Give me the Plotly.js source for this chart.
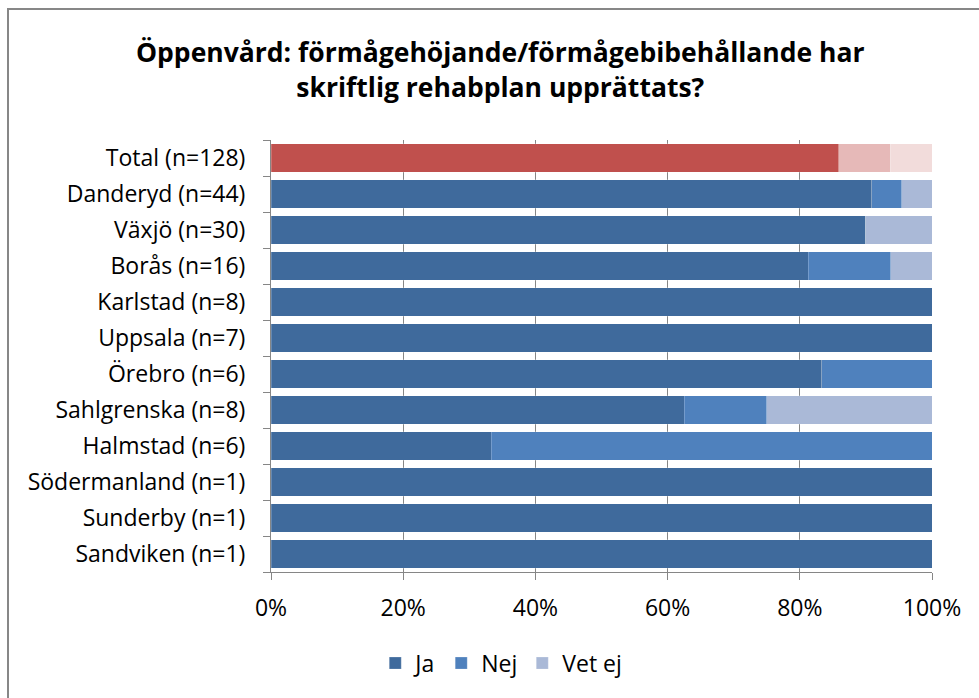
<!DOCTYPE html>
<html>
<head>
<meta charset="utf-8">
<script src="https://cdn.plot.ly/plotly-3.0.1.min.js"></script>
<style>
  html, body { margin: 0; padding: 0; background: #fff; overflow: hidden; }
  #chart { width: 979px; height: 698px; position: absolute; left: 0; top: 0; }
</style>
</head>
<body>
<div id="chart"></div>
<script>
// Categories, top to bottom as shown
const categories = ["Total (n=128)", "Danderyd (n=44)", "Växjö (n=30)", "Borås (n=16)",
  "Karlstad (n=8)", "Uppsala (n=7)", "Örebro (n=6)", "Sahlgrenska (n=8)",
  "Halmstad (n=6)", "Södermanland (n=1)", "Sunderby (n=1)", "Sandviken (n=1)"];
// Percentages per answer
const ja    = [85.9, 90.9, 90.0, 81.25, 100, 100, 83.33, 62.5, 33.33, 100, 100, 100];
const nej   = [7.8, 4.55, 0, 12.5, 0, 0, 16.67, 12.5, 66.67, 0, 0, 0];
const vetej = [6.3, 4.55, 10.0, 6.25, 0, 0, 0, 25.0, 0, 0, 0, 0];
const seriesNames = ["Ja", "Nej", "Vet ej"];
const xTickVals = [0, 20, 40, 60, 80, 100];
const xTickText = ["0%", "20%", "40%", "60%", "80%", "100%"];

const blueColors = ["#3F6A9C", "#4F81BD", "#AAB9D7"];
const redColors  = ["#C0504D", "#E6B9B8", "#F2DCDB"];

const totalLabel = categories[0];
const series = [ja, nej, vetej];
const traces = [];
// Blue traces (all but Total) shown in legend
series.forEach((vals, i) => {
  const ys = [], xs = [];
  categories.forEach((c, k) => { if (c !== totalLabel) { ys.push(c); xs.push(vals[k]); } });
  traces.push({
    type: "bar", orientation: "h", name: seriesNames[i], x: xs, y: ys,
    marker: { color: blueColors[i], line: { width: 0.6, color: "rgba(255,255,255,0.35)" } }
  });
});
// Total traces in red shades
series.forEach((vals, i) => {
  traces.push({
    type: "bar", orientation: "h", name: seriesNames[i], x: [vals[0]], y: [totalLabel],
    showlegend: false,
    marker: { color: redColors[i], line: { width: 0.6, color: "rgba(255,255,255,0.35)" } }
  });
});

const W = 979, H = 698, ML = 271, MR = 47, MT = 140, MB = 126;
const pw = W - ML - MR, ph = H - MT - MB;
const px2x = p => (p - ML) / pw;
const py2y = p => (H - MB - p) / ph;

const fontFam = "'Open Sans', Lato, sans-serif";
const layout = {
  width: W, height: H,
  barmode: "stack",
  bargap: 0.22,
  paper_bgcolor: "#fff", plot_bgcolor: "#fff",
  margin: { l: ML, r: MR, t: MT, b: MB },
  font: { family: fontFam, size: 23, color: "#000" },
  title: {
    text: "<b>Öppenvård: förmågehöjande/förmågebibehållande har<br>skriftlig rehabplan upprättats?</b>",
    font: { family: fontFam, size: 26.5, color: "#000" },
    xref: "container", x: 0.511, xanchor: "center",
    yref: "container", y: 0.911, yanchor: "top"
  },
  xaxis: {
    range: [0, 100], tickmode: "array", tickvals: xTickVals, ticktext: xTickText,
    showgrid: true, gridcolor: "#868686", gridwidth: 1,
    showline: true, linecolor: "#868686", linewidth: 1,
    ticks: "outside", ticklen: 7, tickcolor: "#868686",
    ticklabelstandoff: 8,
    zeroline: false, fixedrange: true,
    tickfont: { family: fontFam, size: 23, color: "#000" }
  },
  yaxis: {
    type: "category", categoryorder: "array", categoryarray: categories.slice().reverse(),
    showline: true, linecolor: "#868686", linewidth: 1,
    ticks: "outside", ticklen: 7, tickcolor: "#868686", tickson: "boundaries",
    ticklabelstandoff: 20,
    showgrid: false, fixedrange: true,
    tickfont: { family: fontFam, size: 23, color: "#000" }
  },
  legend: {
    orientation: "h", traceorder: "normal", xref: "container", x: 0.512, xanchor: "center",
    yref: "container", y: 0.05, yanchor: "middle",
    font: { family: fontFam, size: 23, color: "#000" },
    itemwidth: 30
  },
  shapes: [
    { type: "line", xref: "paper", yref: "paper", x0: px2x(8), x1: px2x(8), y0: py2y(9), y1: py2y(H + 5),
      line: { color: "#878787", width: 2 } },
    { type: "line", xref: "paper", yref: "paper", x0: px2x(7), x1: px2x(W + 5), y0: py2y(9), y1: py2y(9),
      line: { color: "#878787", width: 2 } }
  ],
  showlegend: true
};

Plotly.newPlot("chart", traces, layout, { displayModeBar: false, staticPlot: true });
</script>
</body>
</html>
